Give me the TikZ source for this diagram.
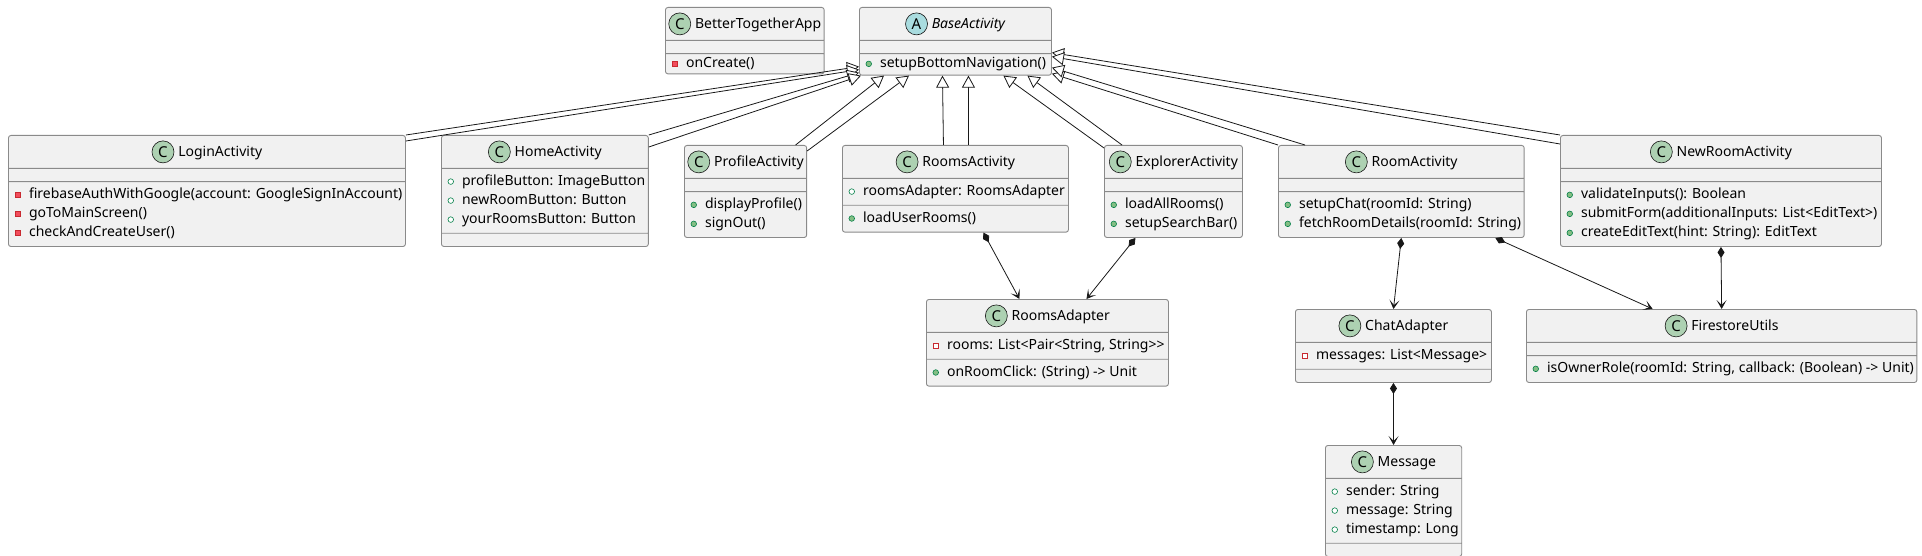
\documentclass[tikz,border=0pt]{standalone}
\usepackage{fontspec}
\setmainfont{Noto Sans}
\usetikzlibrary{shapes.multipart,arrows.meta}
\definecolor{BoxFill}{HTML}{F1F1F1}
\definecolor{BoxBorder}{HTML}{8A8A8A}
\definecolor{BoxLine}{HTML}{181818}
\definecolor{ClassGreen}{HTML}{ADD1B2}
\definecolor{AbstractBlue}{HTML}{A9DCDF}
\definecolor{PubLine}{HTML}{038048}
\definecolor{PubFill}{HTML}{84BE84}
\definecolor{PrivLine}{HTML}{C82930}
\definecolor{PrivFill}{HTML}{F24D5C}
\tikzstyle{ClassNode}=[rectangle split, rectangle split parts=3, rectangle split part align={center,left,left}, rectangle split empty part height=0pt, rectangle split empty part depth=0pt, rectangle split empty part width=0pt, draw=BoxBorder, line width=0.9pt, fill=BoxFill, rounded corners=2.5pt, inner xsep=3pt, inner ysep=3.5pt, anchor=north west, font=\fontsize{14}{19}\selectfont]
\tikzstyle{ClassIcon}=[shape=circle, draw=BoxLine, line width=0.6pt, minimum size=22pt, inner sep=0pt, anchor=center, font=\fontsize{15}{15}\selectfont\bfseries]
\tikzstyle{VisIcon}=[line width=0.6pt, sharp corners]
\tikzstyle{ExtendsEdge}=[-{Triangle[length=12pt, width=13pt, fill=white]}, draw=BoxLine, line width=0.8pt]
\tikzstyle{ComposeEdge}=[{Diamond[length=11pt, width=7pt]}-{Stealth[length=9pt, width=10pt, inset=5pt]}, draw=BoxLine, line width=0.8pt]
\newcommand{\classC}[1]{\rule[-7.5pt]{0pt}{25pt}\tikz[baseline={([yshift=-5pt]cic.center)}]\node[ClassIcon, fill=ClassGreen](cic){C};\hspace{4pt}#1}
\newcommand{\abstractA}[1]{\rule[-7.5pt]{0pt}{25pt}\tikz[baseline={([yshift=-5pt]aic.center)}]\node[ClassIcon, fill=AbstractBlue](aic){A};\hspace{4pt}\textit{#1}}
\newcommand{\pubM}{\hspace{3.2pt}\tikz[baseline=-4pt]\draw[VisIcon, draw=PubLine, fill=PubFill] (0pt,0pt) circle (2.8pt);\hspace{8.2pt}}
\newcommand{\pubF}{\hspace{3.2pt}\tikz[baseline=-4pt]\draw[VisIcon, draw=PubLine, fill=white] (0pt,0pt) circle (2.8pt);\hspace{8.2pt}}
\newcommand{\privM}{\hspace{3.2pt}\tikz[baseline=-4pt]\draw[VisIcon, draw=PrivLine, fill=PrivFill] (-2.8pt,-2.8pt) rectangle (2.8pt,2.8pt);\hspace{8.2pt}}
\newcommand{\privF}{\hspace{3.2pt}\tikz[baseline=-4pt]\draw[VisIcon, draw=PrivLine, fill=white] (-2.8pt,-2.8pt) rectangle (2.8pt,2.8pt);\hspace{8.2pt}}

\begin{document}
\begin{tikzpicture}[x=1pt, y=-1pt]
\useasboundingbox (0,0) rectangle (1922,556);
% top row
\node[ClassNode, minimum width=158pt] (App) at (665,7) {\classC{BetterTogetherApp}\nodepart{two}\nodepart{three}\privM onCreate()};
\node[ClassNode, minimum width=192pt] (Base) at (859,7) {\abstractA{BaseActivity}\nodepart{two}\nodepart{three}\pubM setupBottomNavigation()};

% activities
\node[ClassNode, minimum width=397pt] (Login) at (8,135) {\classC{LoginActivity}\nodepart{two}\nodepart{three}\begin{tabular}{@{}l@{}}\privM firebaseAuthWithGoogle(account: GoogleSignInAccount)\\ \privM goToMainScreen()\\ \privM checkAndCreateUser()\end{tabular}};
\node[ClassNode, minimum width=206pt] (Home) at (441,135) {\classC{HomeActivity}\nodepart{two}\begin{tabular}{@{}l@{}}\pubF profileButton: ImageButton\\ \pubF newRoomButton: Button\\ \pubF yourRoomsButton: Button\end{tabular}\nodepart{three}};
\node[ClassNode, minimum width=122pt] (Profile) at (684,145) {\classC{ProfileActivity}\nodepart{two}\nodepart{three}\begin{tabular}{@{}l@{}}\pubM displayProfile()\\ \pubM signOut()\end{tabular}};
\node[ClassNode, minimum width=226pt] (Rooms) at (842,145) {\classC{RoomsActivity}\nodepart{two}\pubF roomsAdapter: RoomsAdapter\strut\nodepart{three}\pubM loadUserRooms()\strut};
\node[ClassNode, minimum width=138pt] (Explorer) at (1104,145) {\classC{ExplorerActivity}\nodepart{two}\nodepart{three}\begin{tabular}{@{}l@{}}\pubM loadAllRooms()\\ \pubM setupSearchBar()\end{tabular}};
\node[ClassNode, minimum width=245pt] (Room) at (1278,145) {\classC{RoomActivity}\nodepart{two}\nodepart{three}\begin{tabular}{@{}l@{}}\pubM setupChat(roomId: String)\\ \pubM fetchRoomDetails(roomId: String)\end{tabular}};
\node[ClassNode, minimum width=321pt] (NewRoom) at (1560,135) {\classC{NewRoomActivity}\nodepart{two}\nodepart{three}\begin{tabular}{@{}l@{}}\pubM validateInputs(): Boolean\\ \pubM submitForm(additionalInputs: List<EditText>)\\ \pubM createEditText(hint: String): EditText\end{tabular}};

% helpers
\node[ClassNode, minimum width=242pt] (RoomsAdapter) at (926,299) {\classC{RoomsAdapter}\nodepart{two}\privF rooms: List<Pair<String, String>{}>\strut\nodepart{three}\pubM onRoomClick: (String) -> Unit\strut};
\node[ClassNode, minimum width=196pt] (ChatAdapter) at (1295,309) {\classC{ChatAdapter}\nodepart{two}\privF messages: List<Message>\strut\nodepart{three}};
\node[ClassNode, minimum width=390pt] (Firestore) at (1526,309) {\classC{FirestoreUtils}\nodepart{two}\nodepart{three}\pubM isOwnerRole(roomId: String, callback: (Boolean) -> Unit)\strut};
\node[ClassNode, minimum width=136pt] (Message) at (1325,445) {\classC{Message}\nodepart{two}\begin{tabular}{@{}l@{}}\pubF sender: String\\ \pubF message: String\\ \pubF timestamp: Long\end{tabular}\nodepart{three}};

% inheritance
\draw[ExtendsEdge] (Login.north east) -- ([yshift=9pt]Base.south west);
\draw[ExtendsEdge] ([yshift=-6pt]Login.north east) -- ([yshift=6pt]Base.south west);
\draw[ExtendsEdge] (Home.north east) -- ([yshift=3pt]Base.south west);
\draw[ExtendsEdge] ([yshift=-12pt]Home.north east) -- ([xshift=2pt]Base.south west);
\draw[ExtendsEdge] ([xshift=50pt]Profile.north) -- ([xshift=25pt]Base.south west);
\draw[ExtendsEdge] ([yshift=-6pt]Profile.north east) -- ([xshift=50pt]Base.south west);
\draw[ExtendsEdge] ([xshift=-12pt]Rooms.north) -- ([xshift=-13pt]Base.south);
\draw[ExtendsEdge] ([xshift=13pt]Rooms.north) -- ([xshift=13pt]Base.south);
\draw[ExtendsEdge] ([yshift=-3pt]Explorer.north west) -- ([xshift=48pt]Base.south);
\draw[ExtendsEdge] ([xshift=18pt]Explorer.north west) -- ([xshift=72pt]Base.south);
\draw[ExtendsEdge] (Room.north west) -- ([yshift=2pt]Base.south east);
\draw[ExtendsEdge] ([xshift=27pt]Room.north west) -- ([yshift=8pt]Base.south east);
\draw[ExtendsEdge] (NewRoom.north west) -- ([yshift=23pt]Base.south east);
\draw[ExtendsEdge] ([yshift=-9pt]NewRoom.north west) -- ([yshift=19pt]Base.south east);

% composition
\draw[ComposeEdge] ([xshift=28pt]Rooms.south) -- ([xshift=-28pt]RoomsAdapter.north);
\draw[ComposeEdge] ([xshift=-38pt]Explorer.south) -- ([xshift=39pt]RoomsAdapter.north);
\draw[ComposeEdge] (Room.south) -- (ChatAdapter.north);
\draw[ComposeEdge] ([xshift=94pt]Room.south) -- ([xshift=-69pt]Firestore.north);
\draw[ComposeEdge] (NewRoom.south) -- (Firestore.north);
\draw[ComposeEdge] (ChatAdapter.south) -- (Message.north);
\end{tikzpicture}
\end{document}
